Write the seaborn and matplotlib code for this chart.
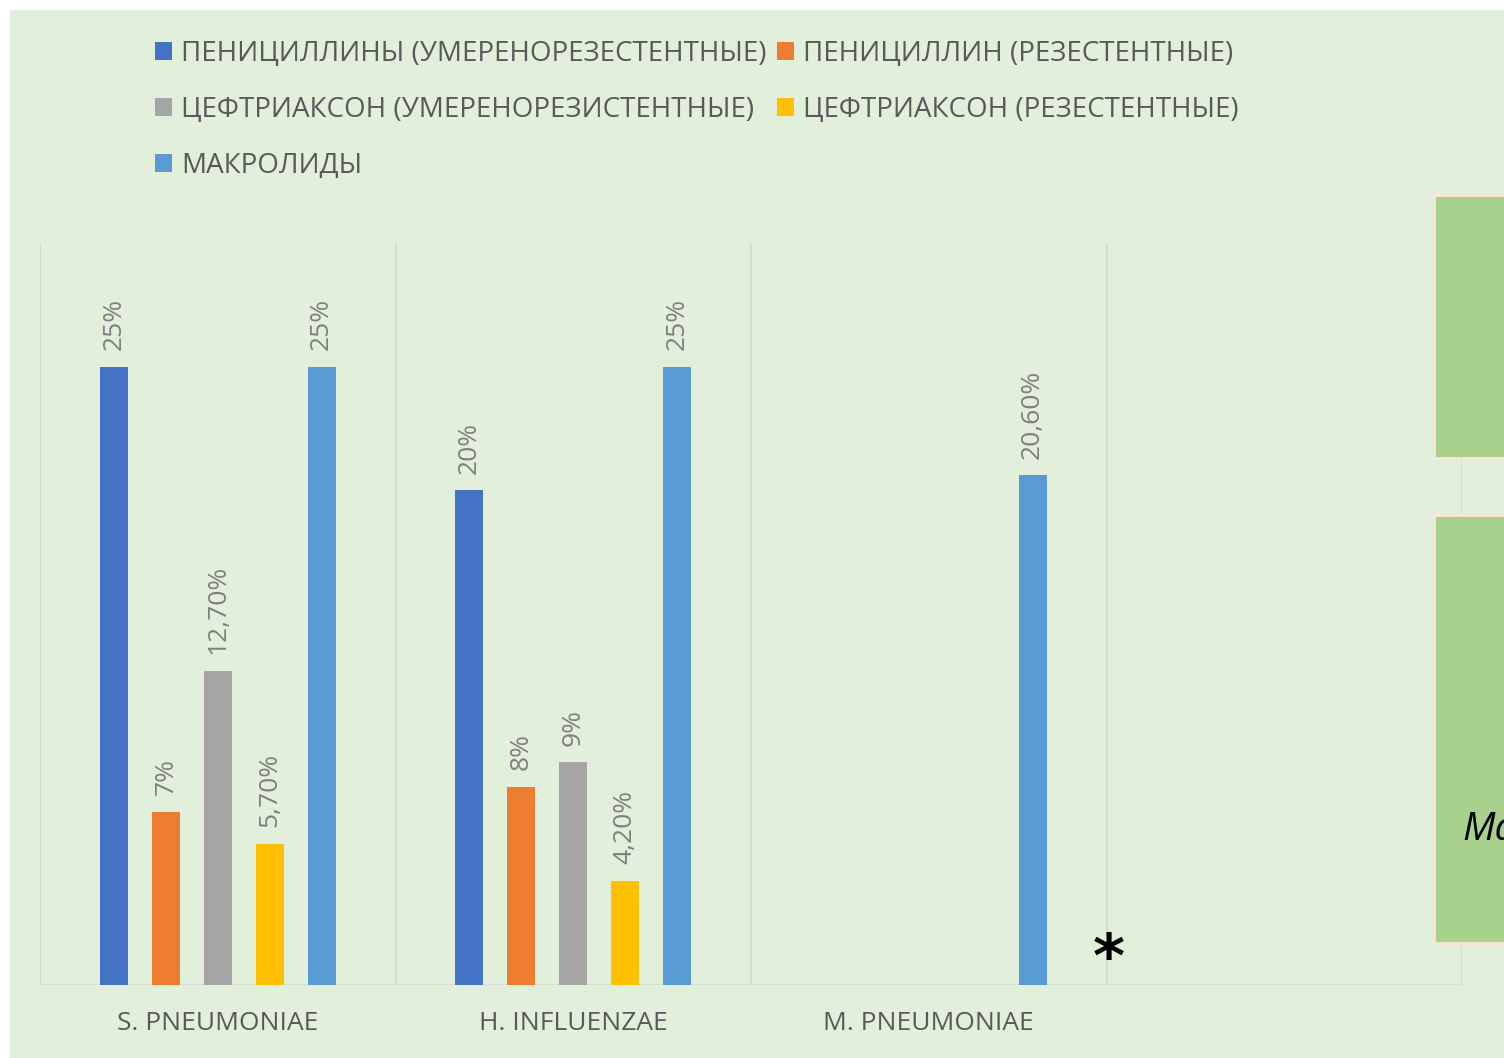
import numpy as np
import pandas as pd
import matplotlib
matplotlib.use("Agg")
import matplotlib.pyplot as plt
import seaborn as sns
from matplotlib.patches import Rectangle, Patch

# ---------------- data ----------------
categories = ["S. PNEUMONIAE", "H. INFLUENZAE", "M. PNEUMONIAE"]
series = [
    "ПЕНИЦИЛЛИНЫ (УМЕРЕНОРЕЗЕСТЕНТНЫЕ)",
    "ПЕНИЦИЛЛИН (РЕЗЕСТЕНТНЫЕ)",
    "ЦЕФТРИАКСОН (УМЕРЕНОРЕЗИСТЕНТНЫЕ)",
    "ЦЕФТРИАКСОН (РЕЗЕСТЕНТНЫЕ)",
    "МАКРОЛИДЫ",
]
colors = ["#4472C4", "#ED7D31", "#A5A5A5", "#FFC000", "#5B9BD5"]
s_pneumoniae = [25, 7, 12.7, 5.7, 25]
h_influenzae = [20, 8, 9, 4.2, 25]
m_pneumoniae = [None, None, None, None, 20.6]
values_by_category = [s_pneumoniae, h_influenzae, m_pneumoniae]

rows = []
for cat, vals in zip(categories, values_by_category):
    for s, v in zip(series, vals):
        if v is not None:
            rows.append({"category": cat, "series": s, "value": v})
df = pd.DataFrame(rows)


def fmt(v):
    if abs(v - round(v)) < 1e-9:
        return f"{int(round(v))}%"
    return f"{v:.2f}%".replace(".", ",")


# ---------------- style ----------------
sns.set_theme(style="white")
plt.rcParams["font.family"] = ["Open Sans", "DejaVu Sans"]

W, H = 1504, 1058
fig = plt.figure(figsize=(W / 100, H / 100), dpi=100)
fig.patch.set_facecolor("white")

# light green chart background
fig.add_artist(Rectangle((10 / W, 0), 1, 1 - 10 / H, transform=fig.transFigure,
                         fc="#E2EFDA", ec="none", zorder=-5))

ax = fig.add_axes([40 / W, (H - 985) / H, (1462 - 40) / W, (985 - 243) / H])
ax.patch.set_alpha(0)

sns.barplot(data=df, x="category", y="value", hue="series",
            order=categories, hue_order=series, palette=colors,
            saturation=1, width=0.73, gap=0.46, errorbar=None,
            legend=False, ax=ax, zorder=2, linewidth=0, edgecolor="none")

ax.set_xlim(-0.5, 3.5)
ax.set_ylim(0, 30)
for xb in np.arange(-0.5, 4.0, 1.0):
    ax.axvline(xb, color="#D9D9D9", lw=1.5, zorder=0)
ax.axhline(0, color="#D9D9D9", lw=2, zorder=1)
for sp in ax.spines.values():
    sp.set_visible(False)
ax.set_yticks([])
ax.set_xticks(range(len(categories)))
ax.set_xticklabels(categories, color="#595959", fontsize=19)
ax.tick_params(axis="x", length=0, pad=19)
ax.set_xlabel("")
ax.set_ylabel("")

for cont in ax.containers:
    labels = [fmt(p.get_height()) for p in cont]
    ax.bar_label(cont, labels=labels, rotation=90, padding=12,
                 color="#7F7F7F", fontsize=19)

# asterisk annotation
ax.text(2.505, 1.0, "*", ha="center", va="center", fontsize=44,
        fontweight="bold", color="black", family="DejaVu Sans")

# legend
handles = [Patch(fc=c, ec="none") for c in colors]
order = [0, 2, 4, 1, 3]
fig.legend([handles[i] for i in order], [series[i] for i in order],
           ncol=2, loc="upper left", bbox_to_anchor=(155 / W, 1 - 40 / H),
           frameon=False, fontsize=20, handlelength=0.62, handleheight=0.62,
           handletextpad=0.33, columnspacing=0.35, labelspacing=1.0,
           labelcolor="#595959", borderpad=0, borderaxespad=0)

# green boxes at right edge (partially visible)
fig.add_artist(Rectangle((1434 / W, 1 - 458 / H), 100 / W, 263 / H,
                         transform=fig.transFigure, fc="#A9D18E",
                         ec="#FBE5D6", lw=2, zorder=3))
fig.add_artist(Rectangle((1434 / W, 1 - 943 / H), 100 / W, 428 / H,
                         transform=fig.transFigure, fc="#A9D18E",
                         ec="#FBE5D6", lw=2, zorder=3))
fig.text(1462 / W, 1 - 840 / H, "Ма", style="italic", fontsize=28,
         color="black", va="baseline", ha="left", zorder=4)

fig.savefig("out.png", dpi=100, facecolor=fig.get_facecolor())
